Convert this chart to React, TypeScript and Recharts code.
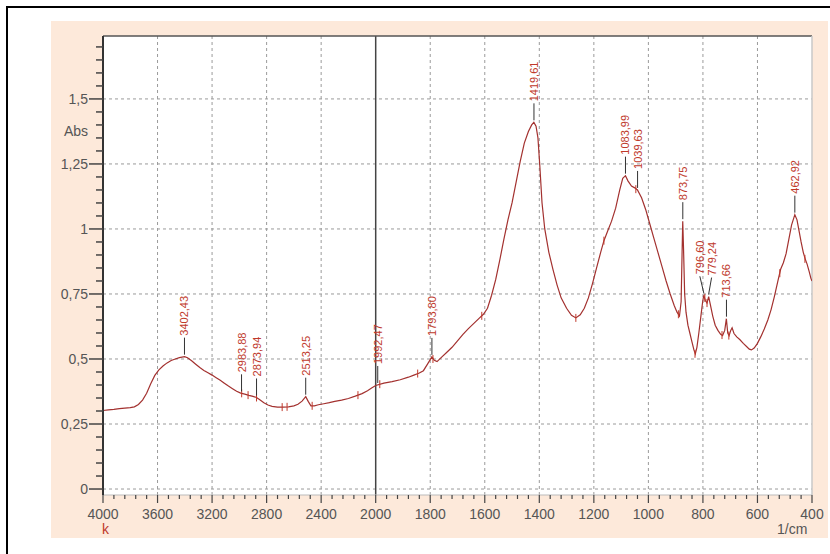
import { ComposedChart, Line, Scatter, XAxis, YAxis, ReferenceLine } from "recharts";

// wavenumber axis labels (1/cm), left part 4000-2000 is compressed
const X_LABELS = [4000, 3600, 3200, 2800, 2400, 2000, 1800, 1600, 1400, 1200, 1000, 800, 600, 400];
const Y_LABELS = [0, 0.25, 0.5, 0.75, 1, 1.25, 1.5];

// [wavenumber, absorbance]
const SPECTRUM: [number, number][] = [
  [4000, 0.302], [3960, 0.304], [3920, 0.306], [3880, 0.309], [3840, 0.311], [3800, 0.313],
  [3770, 0.316], [3740, 0.325], [3710, 0.342], [3680, 0.368], [3650, 0.405], [3620, 0.437],
  [3590, 0.458], [3560, 0.473], [3530, 0.485], [3500, 0.494], [3470, 0.5], [3440, 0.505],
  [3402, 0.509], [3380, 0.505], [3350, 0.493], [3320, 0.48], [3290, 0.467], [3260, 0.456],
  [3230, 0.447], [3200, 0.438], [3170, 0.428], [3140, 0.418], [3110, 0.407], [3080, 0.396],
  [3050, 0.386], [3020, 0.376], [2990, 0.369], [2960, 0.365], [2930, 0.36], [2900, 0.356],
  [2874, 0.352], [2850, 0.343], [2820, 0.332], [2790, 0.323], [2760, 0.318], [2720, 0.315],
  [2680, 0.315], [2640, 0.316], [2600, 0.32], [2570, 0.326], [2540, 0.338], [2513, 0.355],
  [2495, 0.337], [2475, 0.32], [2450, 0.32], [2420, 0.324], [2380, 0.328], [2340, 0.332],
  [2300, 0.337], [2250, 0.342], [2200, 0.348], [2150, 0.357], [2100, 0.367], [2060, 0.378],
  [2030, 0.388], [2000, 0.398], [1970, 0.407], [1940, 0.413], [1910, 0.42], [1880, 0.43],
  [1860, 0.438], [1840, 0.446], [1825, 0.455], [1810, 0.48], [1794, 0.508], [1785, 0.495],
  [1775, 0.49], [1760, 0.505], [1740, 0.525], [1720, 0.545], [1700, 0.57], [1680, 0.595],
  [1660, 0.617], [1640, 0.637], [1620, 0.657], [1605, 0.672], [1590, 0.695], [1575, 0.745],
  [1560, 0.805], [1545, 0.88], [1530, 0.96], [1515, 1.035], [1500, 1.1], [1485, 1.18],
  [1470, 1.26], [1455, 1.33], [1440, 1.375], [1428, 1.4], [1420, 1.41], [1412, 1.395],
  [1405, 1.35], [1398, 1.24], [1390, 1.1], [1380, 1.0], [1365, 0.91], [1350, 0.845],
  [1335, 0.785], [1320, 0.735], [1300, 0.695], [1282, 0.668], [1266, 0.658], [1250, 0.67],
  [1235, 0.695], [1220, 0.735], [1205, 0.79], [1190, 0.85], [1175, 0.91], [1163, 0.955],
  [1150, 0.99], [1135, 1.03], [1120, 1.08], [1105, 1.15], [1094, 1.195], [1084, 1.205],
  [1075, 1.185], [1062, 1.165], [1050, 1.158], [1040, 1.15], [1025, 1.12], [1010, 1.075],
  [995, 1.02], [980, 0.965], [965, 0.91], [950, 0.855], [935, 0.8], [920, 0.75], [905, 0.705],
  [895, 0.68], [886, 0.665], [880, 0.72], [876, 0.93], [874, 1.03], [871, 0.92], [867, 0.75],
  [862, 0.68], [855, 0.63], [848, 0.6], [840, 0.565], [833, 0.535], [828, 0.52], [822, 0.545],
  [815, 0.6], [808, 0.66], [801, 0.72], [797, 0.745], [791, 0.725], [785, 0.715], [779, 0.74],
  [772, 0.705], [764, 0.665], [755, 0.63], [745, 0.61], [735, 0.595], [728, 0.59], [720, 0.61],
  [714, 0.655], [709, 0.6], [704, 0.59], [698, 0.61], [693, 0.62], [686, 0.598], [676, 0.585],
  [665, 0.575], [652, 0.56], [640, 0.548], [630, 0.538], [622, 0.535], [612, 0.542], [600, 0.56],
  [588, 0.585], [575, 0.615], [562, 0.65], [550, 0.69], [538, 0.74], [525, 0.8], [515, 0.845],
  [505, 0.87], [495, 0.905], [485, 0.96], [475, 1.015], [463, 1.055], [455, 1.035], [447, 0.99],
  [440, 0.95], [432, 0.91], [425, 0.885], [418, 0.865], [410, 0.835], [404, 0.81], [400, 0.8],
];

// labelled peaks [wavenumber, absorbance, label]
const PEAKS: [number, number, string][] = [
  [3402.43, 0.509, "3402,43"],
  [2983.88, 0.368, "2983,88"],
  [2873.94, 0.352, "2873,94"],
  [2513.25, 0.355, "2513,25"],
  [1992.47, 0.4, "1992,47"],
  [1793.8, 0.508, "1793,80"],
  [1419.61, 1.41, "1419,61"],
  [1083.99, 1.205, "1083,99"],
  [1039.63, 1.15, "1039,63"],
  [873.75, 1.03, "873,75"],
  [796.6, 0.745, "796,60"],
  [779.24, 0.74, "779,24"],
  [713.66, 0.655, "713,66"],
  [462.92, 1.055, "462,92"],
];

// small pick marks on the trace
const MARKS: [number, number][] = [
  [2983, 0.368], [2936, 0.361], [2874, 0.352], [2686, 0.315], [2650, 0.316], [2466, 0.32],
  [2130, 0.361], [1985, 0.403], [1846, 0.444], [1790, 0.5], [1611, 0.666], [1266, 0.658],
  [1163, 0.955], [1046, 1.153], [890, 0.672], [829, 0.52], [793, 0.735], [785, 0.715],
  [730, 0.592], [705, 0.59], [518, 0.83], [426, 0.885],
];

// labels that are pushed sideways so they don't overlap
const LABEL_NUDGE: Record<string, number> = { "796,60": -4, "779,24": 3 };

// 4000-2000 is drawn at half scale (400 per step), 2000-400 at 200 per step
const toPos = (w: number) => (w >= 2000 ? (4000 - w) / 400 : 5 + (2000 - w) / 200);

const Y_MIN = -0.023;
const Y_MAX = 1.742;
const Y_TICKS = Array.from({ length: 35 }, (_, i) => +(i * 0.05).toFixed(2));
const X_TICKS = Array.from({ length: 66 }, (_, i) => +(i * 0.2).toFixed(1));

const FONT = "'Liberation Sans', Arial, sans-serif";
const RED = "#c0392b";
const TRACE = "#a3312f";

const lineData = SPECTRUM.map(([w, a]) => ({ pos: toPos(w), v: a }));
const peakData = PEAKS.map(([w, a, label]) => ({ pos: toPos(w), v: a, label }));
const markData = MARKS.map(([w, a]) => ({ pos: toPos(w), v: a }));

function YTick(props: any) {
  const { x, y, payload } = props;
  const v = payload.value;
  const major = Math.abs(v * 4 - Math.round(v * 4)) < 1e-6;
  return (
    <g>
      <line x1={x - (major ? 14 : 7)} x2={x} y1={y} y2={y} stroke="#444" strokeWidth={1.5} />
      {major && (
        <text x={x - 15} y={y} dy={5} textAnchor="end" fontSize={14} fill="#555" fontFamily={FONT}>
          {String(v).replace(".", ",")}
        </text>
      )}
    </g>
  );
}

function XTick(props: any) {
  const { x, y, payload } = props;
  const p = payload.value;
  const major = Math.abs(p - Math.round(p)) < 1e-6;
  return (
    <g>
      <line x1={x} x2={x} y1={y} y2={y + (major ? 8 : 4)} stroke="#444" strokeWidth={1.2} />
      {major && (
        <text x={x} y={y + 24} textAnchor="middle" fontSize={14} fill="#555" fontFamily={FONT}>
          {X_LABELS[Math.round(p)]}
        </text>
      )}
    </g>
  );
}

function PeakLabel(props: any) {
  const { cx, cy, payload } = props;
  const tx = cx + (LABEL_NUDGE[payload.label] ?? 0);
  const top = cy - 19;
  return (
    <g>
      <line x1={cx} y1={cy - 2} x2={tx} y2={top} stroke="#333" strokeWidth={1} />
      <text
        x={tx}
        y={top - 2}
        dy={4}
        transform={`rotate(-90 ${tx} ${top - 2})`}
        fontSize={11}
        fill={RED}
        fontFamily={FONT}
      >
        {payload.label}
      </text>
    </g>
  );
}

function Mark(props: any) {
  const { cx, cy } = props;
  return <line x1={cx} x2={cx} y1={cy - 4} y2={cy + 4} stroke={RED} strokeWidth={1} />;
}

export default function App() {
  return (
    <div style={{ position: "absolute", left: 0, top: 0, width: 830, height: 554, background: "#fff", fontFamily: FONT }}>
      {/* frame lines */}
      <div style={{ position: "absolute", left: 6, top: 6, width: 2, height: 548, background: "#000" }} />
      <div style={{ position: "absolute", left: 6, top: 6, width: 824, height: 2, background: "#000" }} />
      {/* panel + plot background */}
      <div style={{ position: "absolute", left: 51, top: 21, width: 777, height: 517, background: "#fde9da" }} />
      <div style={{ position: "absolute", left: 103, top: 36, width: 709, height: 459, background: "#fff" }} />

      <div style={{ position: "absolute", left: 0, top: 0 }}>
        <ComposedChart width={830} height={554} margin={{ top: 36, right: 18, bottom: 19, left: 43 }}>
          <XAxis
            type="number"
            dataKey="pos"
            domain={[0, 13]}
            ticks={X_TICKS}
            interval={0}
            tickSize={0}
            tickMargin={0}
            tick={<XTick />}
            height={40}
            axisLine={{ stroke: "#bbb" }}
            allowDataOverflow
          />
          <YAxis
            type="number"
            dataKey="v"
            domain={[Y_MIN, Y_MAX]}
            ticks={Y_TICKS}
            interval={0}
            tickSize={0}
            tickMargin={0}
            tick={<YTick />}
            width={60}
            axisLine={{ stroke: "#333", strokeWidth: 2 }}
            allowDataOverflow
          />
          {Y_LABELS.map((v) => (
            <ReferenceLine key={"h" + v} y={v} stroke="#9a9a9a" strokeDasharray="3 3" />
          ))}
          {X_LABELS.map((_, i) =>
            i > 0 && i < 13 && i !== 5 ? (
              <ReferenceLine key={"v" + i} x={i} stroke="#9a9a9a" strokeDasharray="3 3" />
            ) : null
          )}
          <ReferenceLine x={5} stroke="#444" strokeWidth={1.5} />
          <ReferenceLine y={Y_MAX} stroke="#555" strokeWidth={1.5} />
          <ReferenceLine x={13} stroke="#c8c8c8" strokeWidth={1.5} />
          <Line
            data={lineData}
            dataKey="v"
            type="linear"
            stroke={TRACE}
            strokeWidth={1.2}
            dot={false}
            activeDot={false}
            isAnimationActive={false}
          />
          <Scatter data={markData} dataKey="v" shape={<Mark />} isAnimationActive={false} />
          <Scatter data={peakData} dataKey="v" shape={<PeakLabel />} isAnimationActive={false} />
        </ComposedChart>
      </div>

      <div style={{ position: "absolute", left: 40, top: 123, width: 48, textAlign: "right", fontSize: 14, color: "#555" }}>Abs</div>
      <div style={{ position: "absolute", left: 102, top: 521, fontSize: 14, color: RED }}>k</div>
      <div style={{ position: "absolute", left: 777, top: 521, fontSize: 14, color: "#555" }}>1/cm</div>
    </div>
  );
}
